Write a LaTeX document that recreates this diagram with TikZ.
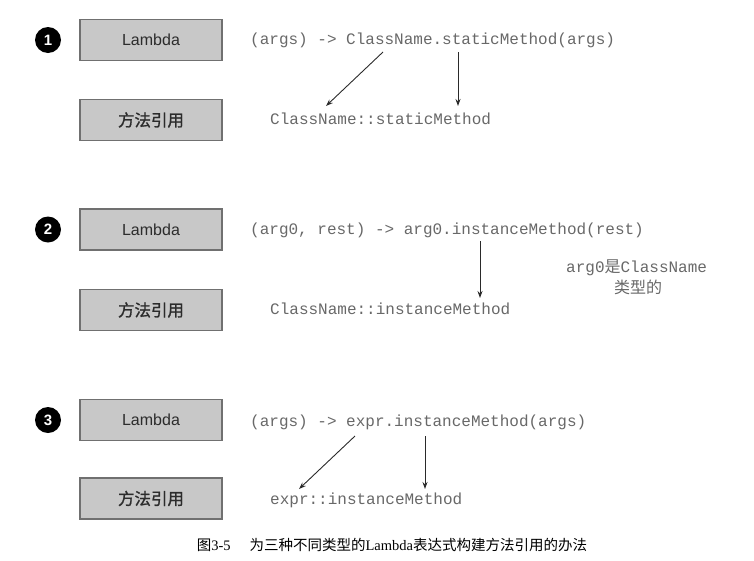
\documentclass[tikz,border=0pt]{standalone}
\usepackage{fontspec}
\setmainfont{Liberation Serif}
\newfontfamily\cjk{Noto Sans CJK SC}
\newfontfamily\cjkm{Noto Sans CJK SC}[FakeBold=1.2]
\newfontfamily\mono{Liberation Mono}
\newfontfamily\arial{Liberation Sans}
\usetikzlibrary{arrows.meta}
\definecolor{boxfill}{HTML}{C8C8C8}
\definecolor{boxborder}{HTML}{707070}
\definecolor{codegray}{HTML}{686868}
\definecolor{labeldark}{HTML}{2C2C2C}
\definecolor{arrowc}{HTML}{2A2A2A}
\begin{document}
\begin{tikzpicture}[x=1pt,y=-1pt,
  box/.style={draw=boxborder, fill=boxfill, line width=1.1pt, minimum width=142pt, minimum height=41pt, inner sep=0pt, text=labeldark},
  lam/.style={box, font=\arial\fontsize{16}{16}\selectfont},
  mref/.style={box, font=\cjkm\fontsize{16.5}{16.5}\selectfont},
  num/.style={circle, fill=black, minimum size=26pt, inner sep=0pt, text=white, font=\arial\bfseries\fontsize{15}{15}\selectfont},
  code/.style={anchor=west, inner sep=0pt, text=codegray, font=\mono\fontsize{16}{19}\selectfont},
  arr/.style={-{Stealth[length=7pt,width=5pt]}, line width=0.9pt, draw=arrowc}]
\useasboundingbox (0,0) rectangle (754,560);

% row 1
\node[num] (c1) at (48,40) {1};
\node[lam] (l1) at (151,40) {Lambda};
\node[mref] (m1) at (151,120) {方法引用};
\node[code] (e1) at (250,40) {(args) -> ClassName.staticMethod(args)};
\node[code] (r1) at (270,119) {ClassName::staticMethod};
\coordinate (a1s) at (383,52);
\coordinate (a1e) at (326,106);
\coordinate (b1s) at (458,52);
\coordinate (b1e) at (458,106);
\draw[arr] (a1s) -- (a1e);
\draw[arr] (b1s) -- (b1e);

% row 2
\node[num] (c2) at (48,229.5) {2};
\node[lam] (l2) at (151,229.5) {Lambda};
\node[mref] (m2) at (151,310) {方法引用};
\node[code] (e2) at (250,230) {(arg0, rest) -> arg0.instanceMethod(rest)};
\node[code] (r2) at (270,309) {ClassName::instanceMethod};
\node[anchor=west, inner sep=0pt, text=codegray, font=\mono\fontsize{16}{18}\selectfont] (n2) at (566,268) {arg0{\cjk 是}ClassName};
\node[inner sep=0pt, text=codegray, font=\cjk\fontsize{16}{18}\selectfont] (n2b) at (638,287) {类型的};
\coordinate (b2s) at (480,241);
\coordinate (b2e) at (480,298);
\draw[arr] (b2s) -- (b2e);

% row 3
\node[num] (c3) at (48,420) {3};
\node[lam] (l3) at (151,420) {Lambda};
\node[mref] (m3) at (151,498.5) {方法引用};
\node[code] (e3) at (250,422) {(args) -> expr.instanceMethod(args)};
\node[code] (r3) at (270,500) {expr::instanceMethod};
\coordinate (a3s) at (355,436);
\coordinate (a3e) at (299,489);
\coordinate (b3s) at (425,436);
\coordinate (b3e) at (425,489);
\draw[arr] (a3s) -- (a3e);
\draw[arr] (b3s) -- (b3e);

% caption
\node[inner sep=0pt, font=\fontsize{14.5}{17}\selectfont] (cap) at (392,545) {{\cjk 图}3-5\hspace{1.3em}{\cjk 为三种不同类型的}Lambda{\cjk 表达式构建方法引用的办法}};
\end{tikzpicture}
\end{document}
